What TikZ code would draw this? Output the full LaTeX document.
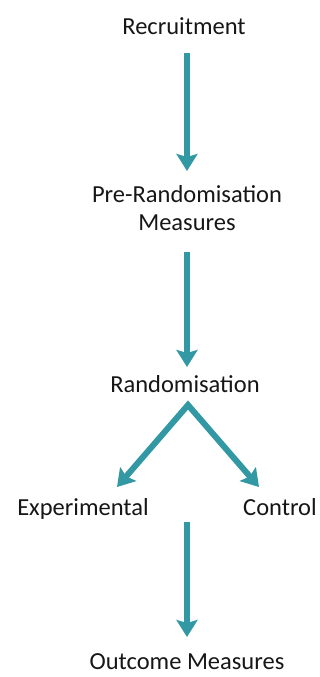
\documentclass[tikz,border=0pt]{standalone}
\usepackage{fontspec}
\setmainfont{Carlito}
\usetikzlibrary{arrows.meta,calc}
\definecolor{arrowteal}{RGB}{50,152,163}
\definecolor{labelink}{RGB}{22,22,22}
\begin{document}
\begin{tikzpicture}[x=1pt,y=-1pt,
  >={Stealth[length=17pt,width=21pt,inset=3pt]},
  lbl/.style={font=\fontsize{24.5}{28}\selectfont, inner sep=0pt, anchor=base, text=labelink},
  arr/.style={draw=arrowteal, line width=6pt, line join=miter, ->},
  biarr/.style={arr, <->}]
\useasboundingbox (0,0) rectangle (320,677);

% stages
\node[lbl] (rec)  at (184,35)  {Recruitment};
\node[lbl] (pre)  at (187,202) {Pre-Randomisation};
\node[lbl] (meas) at (187,230) {Measures};
\node[lbl] (rand) at (185,392) {Randomisation};
\node[lbl] (exp)  at (83,515)  {Experimental};
\node[lbl] (ctrl) at (280,515) {Control};
\node[lbl] (out)  at (187,669) {Outcome Measures};

% branching point below the randomisation step
\coordinate (apex) at ($(rand.base)+(3,13)$);

% connectors
\draw[arr] ($(rec.base -| pre.base)+(0,18)$) -- ($(pre.base)+(0,-31)$);
\draw[arr] ($(meas.base)+(0,22)$) -- ($(rand.base -| meas.base)+(0,-25)$);
\draw[biarr] ($(exp.base)+(34,-28)$) -- (apex) -- ($(ctrl.base)+(-21,-28)$);
\draw[arr] ($(out.base |- ctrl.base)+(0,7)$) -- ($(out.base)+(0,-32)$);
\end{tikzpicture}
\end{document}
